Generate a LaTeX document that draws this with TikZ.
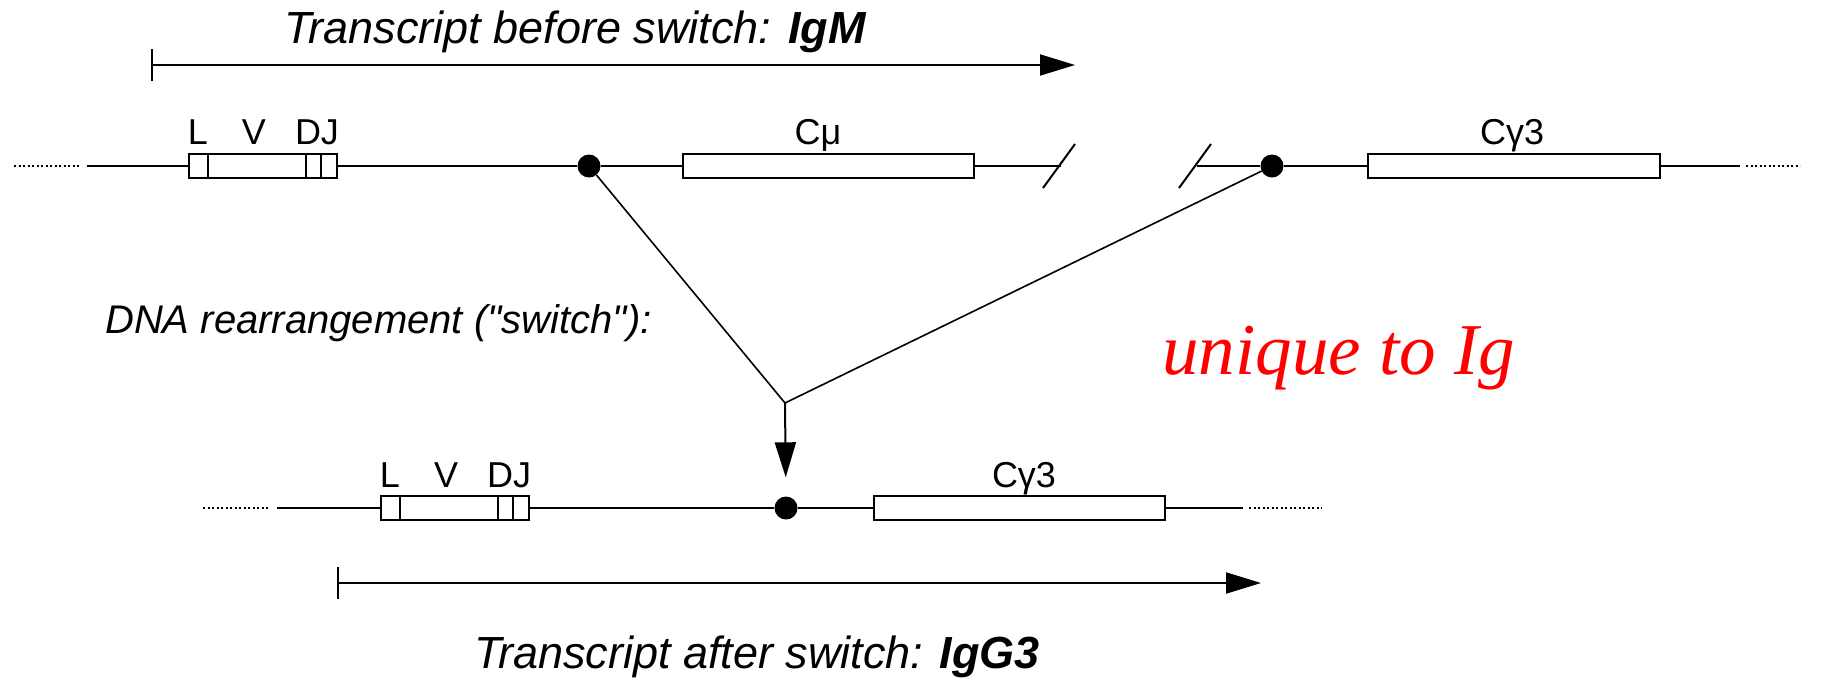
\documentclass[tikz,border=0pt]{standalone}
\usepackage{fontspec}
\setmainfont{Liberation Sans}
\newfontfamily\plainsans{Liberation Sans}[Ligatures=TeXOff]
\newfontfamily\timesfont{Liberation Serif}
\usetikzlibrary{arrows.meta}
\begin{document}
\begin{tikzpicture}[x=1pt,y=-1pt,
  dna/.style={line width=2pt},
  dotline/.style={line width=2.2pt, dash pattern=on 2pt off 2.5pt},
  gene/.style={draw, rectangle, line width=2pt, fill=white, inner sep=0pt, minimum height=24pt},
  dotnode/.style={circle, fill=black, inner sep=0pt, minimum size=23pt},
  lab/.style={font=\fontsize{36}{40}\selectfont, anchor=base, inner sep=0pt},
  diag/.style={line width=1.6pt},
  slash/.style={line width=2pt},
  transcript/.style={line width=2pt, {Bar[width=32pt]}-{Triangle[length=35pt,width=21pt]}},
  title/.style={font=\fontsize{45}{50}\selectfont\itshape, anchor=base, inner sep=0pt}]
\useasboundingbox (0,0) rectangle (1822,681);

% ---- top (germline) ----
\coordinate (d1a) at (14,166);
\coordinate (d1b) at (81,166);
\coordinate (l1a) at (87,166);
\coordinate (br1) at (1061,166);
\coordinate (br2) at (1197,166);
\coordinate (e1) at (1740,166);
\coordinate (d2a) at (1746,166);
\coordinate (d2b) at (1800,166);
\coordinate (sl1a) at (1043,188);
\coordinate (sl1b) at (1075,144);
\coordinate (sl2a) at (1179,188);
\coordinate (sl2b) at (1211,144);

\node[gene, minimum width=148pt] (vdj1) at (263,166) {};
\node[gene, minimum width=291pt] (cmu) at (828.5,166) {};
\node[gene, minimum width=292pt] (cg1) at (1514,166) {};
\node[dotnode] (s1) at (589,166) {};
\node[dotnode] (s2) at (1272,166) {};

\draw[dotline] (d1a) -- (d1b);
\draw[dna] (l1a) -- (vdj1.west);
\draw[dna] (vdj1.east) -- (s1);
\draw[dna] (s1) -- (cmu.west);
\draw[dna] (cmu.east) -- (br1);
\draw[dna] (br2) -- (s2);
\draw[dna] (s2) -- (cg1.west);
\draw[dna] (cg1.east) -- (e1);
\draw[dotline] (d2a) -- (d2b);
\draw[slash] (sl1a) -- (sl1b);
\draw[slash] (sl2a) -- (sl2b);

\draw[dna] ([xshift=20pt]vdj1.north west) -- ([xshift=20pt]vdj1.south west);
\draw[dna] ([xshift=118pt]vdj1.north west) -- ([xshift=118pt]vdj1.south west);
\draw[dna] ([xshift=133pt]vdj1.north west) -- ([xshift=133pt]vdj1.south west);

\node[lab] (lL1) at (198,144) {L};
\node[lab] (lV1) at (254,144) {V};
\node[lab] (lDJ1) at (317,144) {DJ};
\node[lab] (lcmu) at (818,144) {Cμ};
\node[lab] (lcg1) at (1512,144) {Cγ3};

% ---- switch ----
\coordinate (junc) at (785,403);
\draw[diag] (s1) -- (junc);
\draw[diag] (s2) -- (junc);

% ---- bottom (switched) ----
\coordinate (d3a) at (203,508);
\coordinate (d3b) at (270,508);
\coordinate (l3a) at (277,508);
\coordinate (e3) at (1243,508);
\coordinate (d4a) at (1249,508);
\coordinate (d4b) at (1322,508);

\node[gene, minimum width=148pt] (vdj2) at (455,508) {};
\node[dotnode] (s3) at (786,508) {};
\node[gene, minimum width=291pt] (cg2) at (1019.5,508) {};

\draw[dotline] (d3a) -- (d3b);
\draw[dna] (l3a) -- (vdj2.west);
\draw[dna] (vdj2.east) -- (s3);
\draw[dna] (s3) -- (cg2.west);
\draw[dna] (cg2.east) -- (e3);
\draw[dotline] (d4a) -- (d4b);

\draw[dna] ([xshift=20pt]vdj2.north west) -- ([xshift=20pt]vdj2.south west);
\draw[dna] ([xshift=118pt]vdj2.north west) -- ([xshift=118pt]vdj2.south west);
\draw[dna] ([xshift=133pt]vdj2.north west) -- ([xshift=133pt]vdj2.south west);

\node[lab] (lL2) at (390,487) {L};
\node[lab] (lV2) at (446,487) {V};
\node[lab] (lDJ2) at (509,487) {DJ};
\node[lab] (lcg2) at (1024,487) {Cγ3};

\draw[line width=2pt, -{Triangle[length=35pt,width=21pt]}, shorten >=19pt] (junc) -- (s3);

% ---- transcripts ----
\coordinate (t1a) at (151,65);
\coordinate (t1b) at (1075,65);
\draw[transcript] (t1a) -- (t1b);
\coordinate (t2a) at (337,583);
\coordinate (t2b) at (1261,583);
\draw[transcript] (t2a) -- (t2b);

\node[title] (tt1) at (575,43) {Transcript before switch: \textbf{IgM}};
\node[title] (tt2) at (757,668) {Transcript after switch: \textbf{IgG3}};

\node[font=\fontsize{40}{44}\selectfont\plainsans\itshape, anchor=base west, inner sep=0pt] (dna) at (105,333) {DNA rearrangement ("switch"):};
\node[font=\fontsize{73}{80}\selectfont\timesfont\itshape, text={rgb,255:red,255;green,0;blue,0}, anchor=base west, inner sep=0pt] (uniq) at (1162,374) {unique to Ig};
\end{tikzpicture}
\end{document}
